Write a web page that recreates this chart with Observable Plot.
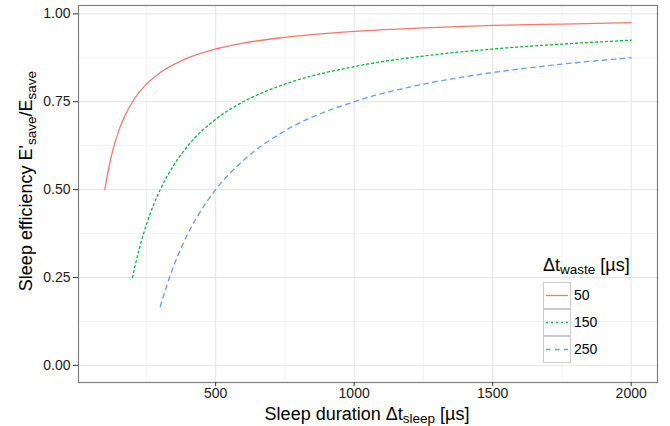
<!DOCTYPE html>
<html><head><meta charset="utf-8">
<script src="https://cdn.jsdelivr.net/npm/d3@7"></script>
<script src="https://cdn.jsdelivr.net/npm/@observablehq/plot@0.6"></script>
<style>
body{margin:0;background:#fff;font-family:"Liberation Sans",Arial,sans-serif;}
#chart{position:relative;width:670px;height:426px;}
svg text{font-weight:normal;}
</style></head><body><div id="chart"></div>
<script>
const wasteLevels = ["50", "150", "250"];
const sleep50 = [100,110,125,150,175,200,250,300,400,500,600,750,1000,1250,1500,1750,2000];
const eff50   = [0.5,0.545,0.6,0.667,0.714,0.75,0.8,0.833,0.875,0.9,0.917,0.933,0.95,0.96,0.967,0.971,0.975];
const sleep150 = [200,210,225,250,275,300,350,400,500,600,750,1000,1250,1500,1750,2000];
const eff150   = [0.25,0.286,0.333,0.4,0.455,0.5,0.571,0.625,0.7,0.75,0.8,0.85,0.88,0.9,0.914,0.925];
const sleep250 = [300,315,330,350,375,400,450,500,600,750,1000,1250,1500,1750,2000];
const eff250   = [0.167,0.206,0.242,0.286,0.333,0.375,0.444,0.5,0.583,0.667,0.75,0.8,0.833,0.857,0.875];
const xTicks = [500,1000,1500,2000];
const xMinor = [250,750,1250,1750];
const yTicks = [0,0.25,0.5,0.75,1];
const yMinor = [0.125,0.375,0.625,0.875];
const colors = ["#F8766D","#00BA38","#619CFF"];
const dashes = [null,"2,3","4.5,4.5"];

const series = [[sleep50,eff50],[sleep150,eff150],[sleep250,eff250]];
const data = [];
series.forEach(([xs,ys],i)=>xs.forEach((x,j)=>data.push({sleep:x,eff:ys[j],waste:wasteLevels[i]})));

const lineMarks = wasteLevels.map((w,i)=>Plot.line(data.filter(d=>d.waste===w),{
  x:"sleep",y:"eff",stroke:colors[i],strokeWidth:1.3,strokeDasharray:dashes[i],curve:"monotone-x"}));

const plot = Plot.plot({
  width:670,height:426,marginLeft:78,marginRight:13,marginTop:5,marginBottom:44,
  style:{fontFamily:"Liberation Sans, Arial, sans-serif",fontSize:"14px",color:"#1a1a1a",background:"#fff"},
  x:{domain:[5,2095],ticks:xTicks,label:null,tickFormat:d3.format("d")},
  y:{domain:[-0.04875,1.02375],ticks:yTicks,label:null,tickFormat:d3.format(".2f")},
  marks:[
    Plot.ruleX(xMinor,{stroke:"#F3F3F3",strokeWidth:1}),
    Plot.ruleY(yMinor,{stroke:"#F3F3F3",strokeWidth:1}),
    Plot.ruleX(xTicks,{stroke:"#E5E5E5",strokeWidth:1}),
    Plot.ruleY(yTicks,{stroke:"#E5E5E5",strokeWidth:1}),
    ...lineMarks,
    Plot.frame({stroke:"#7F7F7F",strokeWidth:1.2}),
    Plot.axisX({ticks:xTicks,tickSize:4,tickPadding:2,stroke:"#333",fontSize:14,label:null,tickFormat:d3.format("d")}),
    Plot.axisY({ticks:yTicks,tickSize:5,tickPadding:3,stroke:"#333",fontSize:14,label:null,tickFormat:d3.format(".2f")})
  ]
});
document.getElementById("chart").appendChild(plot);
const svg = d3.select(plot);
// x title
const xt = svg.append("text").attr("x",367).attr("y",420).attr("text-anchor","middle")
  .attr("font-size",18).attr("font-weight","normal").attr("fill","#000");
xt.append("tspan").text("Sleep duration Δt");
xt.append("tspan").attr("font-size",13.5).attr("dy",3).text("sleep");
xt.append("tspan").attr("dy",-3).text(" [µs]");
// y title
const yt = svg.append("text").attr("transform","translate(32,181) rotate(-90)").attr("text-anchor","middle")
  .attr("font-size",18).attr("font-weight","normal").attr("fill","#000");
yt.append("tspan").text("Sleep efficiency E'");
yt.append("tspan").attr("font-size",13.5).attr("dy",4).text("save");
yt.append("tspan").attr("dy",-4).text("/E");
yt.append("tspan").attr("font-size",13.5).attr("dy",4).text("save");
// legend
const lg = svg.append("g").attr("text-anchor","start").attr("font-weight","normal");
const lt = lg.append("text").attr("x",543).attr("y",271).attr("font-size",18).attr("fill","#000");
lt.append("tspan").text("Δt");
lt.append("tspan").attr("font-size",13.5).attr("dy",3).text("waste");
lt.append("tspan").attr("dy",-3).text(" [µs]");
wasteLevels.forEach((w,i)=>{
  const y0 = 282 + i*27;
  lg.append("rect").attr("x",543.5).attr("y",y0+0.5).attr("width",27).attr("height",26)
    .attr("fill","#fff").attr("stroke","#cccccc").attr("stroke-width",1);
  lg.append("line").attr("x1",546).attr("x2",568).attr("y1",y0+13.5).attr("y2",y0+13.5)
    .attr("stroke",colors[i]).attr("stroke-width",1.3).attr("stroke-dasharray",dashes[i]);
  lg.append("text").attr("x",574).attr("y",y0+18).attr("font-size",14).attr("fill","#000").text(w);
});
</script></body></html>
